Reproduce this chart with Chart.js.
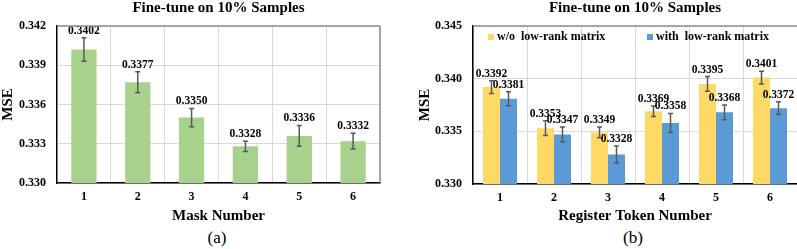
<!DOCTYPE html>
<html>
<head>
<meta charset="utf-8">
<script src="https://cdn.jsdelivr.net/npm/chart.js@4/dist/chart.umd.min.js"></script>
<style>
  body { margin: 0; width: 797px; height: 249px; overflow: hidden; background: #fff; position: relative; font-family: "Liberation Serif", serif; }
  canvas { position: absolute; top: 0; }
  #chartA { left: 0; }
  #chartB { left: 400px; }
  .caption { position: absolute; top: 228px; width: 60px; text-align: center; font-size: 17px; line-height: 20px; color: #000; }
</style>
</head>
<body>
<canvas id="chartA" width="400" height="226"></canvas>
<canvas id="chartB" width="397" height="226"></canvas>
<div class="caption" style="left:187px">(a)</div>
<div class="caption" style="left:603px">(b)</div>
<script>
// data
const maskNumbers = ['1', '2', '3', '4', '5', '6'];
const maskMse = [0.3402, 0.3377, 0.3350, 0.3328, 0.3336, 0.3332];
const maskErr = [0.0009, 0.0008, 0.0007, 0.0004, 0.0008, 0.0006];
const maskTicks = [0.330, 0.333, 0.336, 0.339, 0.342];

const tokenNumbers = ['1', '2', '3', '4', '5', '6'];
const woLowRank = [0.3392, 0.3353, 0.3349, 0.3369, 0.3395, 0.3401];
const woLowRankErr = [0.0006, 0.0007, 0.0005, 0.0005, 0.0007, 0.0006];
const withLowRank = [0.3381, 0.3347, 0.3328, 0.3358, 0.3368, 0.3372];
const withLowRankErr = [0.00066, 0.0007, 0.0008, 0.0009, 0.0007, 0.0006];
const tokenTicks = [0.330, 0.335, 0.340, 0.345];

Chart.defaults.font.family = '"Liberation Serif", "Times New Roman", serif';
Chart.defaults.color = '#000';

// error bars + value labels on top
const errorBars = {
  id: 'errorBars',
  afterDatasetsDraw(chart) {
    const ctx = chart.ctx;
    const y = chart.scales.y;
    chart.data.datasets.forEach((ds, di) => {
      const meta = chart.getDatasetMeta(di);
      meta.data.forEach((bar, i) => {
        const v = ds.data[i];
        const e = ds.errors[i];
        const top = y.getPixelForValue(v + e);
        const bot = y.getPixelForValue(v - e);
        ctx.save();
        ctx.strokeStyle = '#595959';
        ctx.lineWidth = 1.5;
        ctx.beginPath();
        ctx.moveTo(bar.x, top); ctx.lineTo(bar.x, bot);
        ctx.moveTo(bar.x - 2.5, top); ctx.lineTo(bar.x + 2.5, top);
        ctx.moveTo(bar.x - 2.5, bot); ctx.lineTo(bar.x + 2.5, bot);
        ctx.stroke();
        ctx.fillStyle = '#000';
        ctx.font = 'bold 11.5px "Liberation Serif"';
        ctx.textAlign = 'center';
        ctx.textBaseline = 'middle';
        ctx.fillText(v.toFixed(4), bar.x, top - 7);
        ctx.restore();
      });
    });
  }
};

// gray frame on top / right of the plot
const frame = {
  id: 'frame',
  afterDraw(chart, args, opts) {
    const {ctx, chartArea: a} = chart;
    ctx.save();
    ctx.strokeStyle = '#8c8c8c';
    ctx.lineWidth = 1.5;
    ctx.beginPath();
    ctx.moveTo(a.left, a.top); ctx.lineTo(a.right, a.top);
    if (opts.right) { ctx.moveTo(a.right, a.top); ctx.lineTo(a.right, a.bottom); }
    ctx.stroke();
    ctx.restore();
  }
};

// legend drawn inside the plot
const innerLegend = {
  id: 'innerLegend',
  afterDraw(chart, args, opts) {
    if (!opts.items) return;
    const {ctx, chartArea: a} = chart;
    ctx.save();
    ctx.font = 'bold 12px "Liberation Serif"';
    ctx.textBaseline = 'middle';
    ctx.textAlign = 'left';
    chart.data.datasets.forEach((ds, i) => {
      const x = a.left + opts.items[i];
      const yc = a.top + 11;
      ctx.fillStyle = ds.backgroundColor;
      ctx.fillRect(x, yc - 3, 6, 6);
      ctx.fillStyle = '#000';
      ctx.fillText(ds.label, x + 9, yc);
    });
    ctx.restore();
  }
};

function axes(ticks, xTitle, yTitlePad, yWidth, xHeight) {
  return {
    x: {
      grid: { color: '#d9d9d9', drawTicks: false, offset: true },
      border: { color: '#000', width: 1.5 },
      ticks: { font: { size: 12, weight: 'bold' }, padding: 7 },
      title: { display: true, text: xTitle, font: { size: 15, weight: 'bold', lineHeight: 1 }, padding: { top: 0, bottom: 2 } },
      afterFit(s) { s.height = xHeight; }
    },
    y: {
      min: ticks[0],
      max: ticks[ticks.length - 1],
      afterBuildTicks(s) { s.ticks = ticks.map(v => ({ value: v })); },
      grid: { color: '#d9d9d9', drawTicks: false },
      border: { color: '#000', width: 1.5 },
      ticks: { font: { size: 12, weight: 'bold' }, padding: 11, callback: v => v.toFixed(3) },
      title: { display: true, text: 'MSE', font: { size: 15, weight: 'bold', lineHeight: 1 }, padding: { top: yTitlePad, bottom: 0 } },
      afterFit(s) { s.width = yWidth; }
    }
  };
}

const titleOpts = {
  display: true,
  text: 'Fine-tune on 10% Samples',
  fullSize: false,
  font: { size: 15, weight: 'bold', lineHeight: 1 },
  padding: { top: 1, bottom: 10 }
};

new Chart(document.getElementById('chartA'), {
  type: 'bar',
  data: {
    labels: maskNumbers,
    datasets: [{
      label: 'MSE',
      data: maskMse,
      errors: maskErr,
      backgroundColor: '#a9d18e',
      categoryPercentage: 1,
      barPercentage: 0.47
    }]
  },
  options: {
    responsive: false,
    animation: false,
    layout: { padding: { left: 0, right: 20, top: 0, bottom: 0 } },
    plugins: {
      legend: { display: false },
      tooltip: { enabled: false },
      title: titleOpts,
      frame: { right: true },
      innerLegend: {}
    },
    scales: axes(maskTicks, 'Mask Number', 0.5, 57, 43)
  },
  plugins: [errorBars, frame, innerLegend]
});

new Chart(document.getElementById('chartB'), {
  type: 'bar',
  data: {
    labels: tokenNumbers,
    datasets: [{
      label: 'w/o  low-rank matrix',
      data: woLowRank,
      errors: woLowRankErr,
      backgroundColor: '#ffd966',
      categoryPercentage: 0.63,
      barPercentage: 1
    }, {
      label: 'with  low-rank matrix',
      data: withLowRank,
      errors: withLowRankErr,
      backgroundColor: '#5b9bd5',
      categoryPercentage: 0.63,
      barPercentage: 1
    }]
  },
  options: {
    responsive: false,
    animation: false,
    layout: { padding: { left: 0, right: 0, top: 0, bottom: 0 } },
    plugins: {
      legend: { display: false },
      tooltip: { enabled: false },
      title: titleOpts,
      frame: { right: false },
      innerLegend: { items: [15, 174] }
    },
    scales: axes(tokenTicks, 'Register Token Number', 17.5, 73, 42)
  },
  plugins: [errorBars, frame, innerLegend]
});
</script>
</body>
</html>
